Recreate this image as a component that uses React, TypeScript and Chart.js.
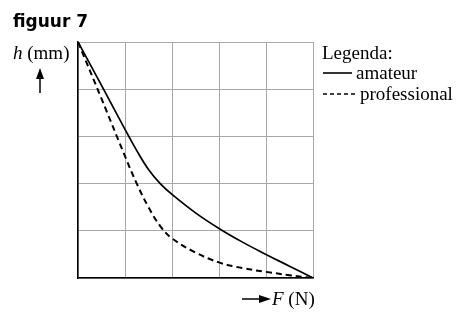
import React, { useEffect, useRef } from "react";
import { Chart, registerables } from "chart.js";

Chart.register(...registerables);

const forceValues = [0, 0.5, 1, 1.25, 1.5, 1.75, 2, 2.5, 3, 3.5, 4, 4.5, 5];
const amateurHeights = [5, 4.08, 3.15, 2.7, 2.3, 2.0, 1.77, 1.38, 1.05, 0.76, 0.5, 0.25, 0];
const professionalHeights = [5, 3.8, 2.58, 2.0, 1.5, 1.1, 0.84, 0.54, 0.33, 0.21, 0.13, 0.06, 0];
const seriesLabels = ["amateur", "professional"];
const titleText = "figuur 7";
const legendTitle = "Legenda:";

const SERIF = '"Liberation Serif", "Times New Roman", serif';

const textPlugin = {
  id: "annotations",
  afterDraw(chart: any) {
    const ctx = chart.ctx as CanvasRenderingContext2D;
    ctx.save();
    ctx.fillStyle = "#000";
    ctx.strokeStyle = "#000";
    ctx.textBaseline = "alphabetic";
    // title
    ctx.font = 'bold 17px "DejaVu Sans", sans-serif';
    ctx.fillText(titleText, 13, 27);
    // y label
    ctx.font = "italic 19px " + SERIF;
    ctx.fillText("h", 13, 59);
    const hw = ctx.measureText("h").width;
    ctx.font = "19px " + SERIF;
    ctx.fillText(" (mm)", 13 + hw, 59);
    // up arrow
    ctx.lineWidth = 1.5;
    ctx.beginPath();
    ctx.moveTo(40, 93);
    ctx.lineTo(40, 76);
    ctx.stroke();
    ctx.beginPath();
    ctx.moveTo(40, 68);
    ctx.lineTo(36, 79);
    ctx.lineTo(44, 79);
    ctx.closePath();
    ctx.fill();
    // legend
    ctx.font = "19px " + SERIF;
    ctx.fillText(legendTitle, 322, 59);
    ctx.lineWidth = 1.6;
    ctx.beginPath();
    ctx.moveTo(323, 73);
    ctx.lineTo(352, 73);
    ctx.stroke();
    ctx.fillText(seriesLabels[0], 356, 79);
    ctx.setLineDash([4, 3]);
    ctx.beginPath();
    ctx.moveTo(323, 94);
    ctx.lineTo(357, 94);
    ctx.stroke();
    ctx.setLineDash([]);
    ctx.fillText(seriesLabels[1], 360, 100);
    // x label
    ctx.lineWidth = 1.5;
    ctx.beginPath();
    ctx.moveTo(242, 299);
    ctx.lineTo(262, 299);
    ctx.stroke();
    ctx.beginPath();
    ctx.moveTo(271, 299);
    ctx.lineTo(259, 295);
    ctx.lineTo(259, 303);
    ctx.closePath();
    ctx.fill();
    ctx.font = "italic 19px " + SERIF;
    ctx.fillText("F", 272, 305);
    const fw = ctx.measureText("F").width;
    ctx.font = "19px " + SERIF;
    ctx.fillText(" (N)", 272 + fw, 305);
    ctx.restore();
  },
};

export default function App() {
  const ref = useRef<HTMLCanvasElement | null>(null);
  useEffect(() => {
    if (!ref.current) return;
    const chart = new Chart(ref.current, {
      type: "line",
      data: {
        datasets: [
          {
            label: seriesLabels[0],
            data: forceValues.map((x, i) => ({ x, y: amateurHeights[i] })),
            borderColor: "#000",
            borderWidth: 1.7,
            pointRadius: 0,
            tension: 0.4,
            fill: false,
          },
          {
            label: seriesLabels[1],
            data: forceValues.map((x, i) => ({ x, y: professionalHeights[i] })),
            borderColor: "#000",
            borderWidth: 2,
            borderDash: [6, 4],
            pointRadius: 0,
            tension: 0.4,
            fill: false,
          },
        ],
      },
      options: {
        animation: false,
        responsive: false,
        maintainAspectRatio: false,
        layout: { padding: { left: 78, top: 42, right: 149, bottom: 40 } },
        plugins: { legend: { display: false }, tooltip: { enabled: false } },
        scales: {
          x: {
            type: "linear",
            min: 0,
            max: 5,
            ticks: { display: false, stepSize: 1 },
            grid: { color: "#a8a8a8", lineWidth: 1, drawTicks: false },
            border: { color: "#000", width: 1.5 },
          },
          y: {
            type: "linear",
            min: 0,
            max: 5,
            ticks: { display: false, stepSize: 1 },
            grid: { color: "#a8a8a8", lineWidth: 1, drawTicks: false },
            border: { color: "#000", width: 1.5 },
          },
        },
      },
      plugins: [textPlugin],
    });
    return () => chart.destroy();
  }, []);
  return (
    <div style={{ position: "fixed", left: 0, top: 0, width: 462, height: 318, background: "#fff" }}>
      <canvas ref={ref} width={462} height={318} style={{ width: 462, height: 318 }} />
    </div>
  );
}
